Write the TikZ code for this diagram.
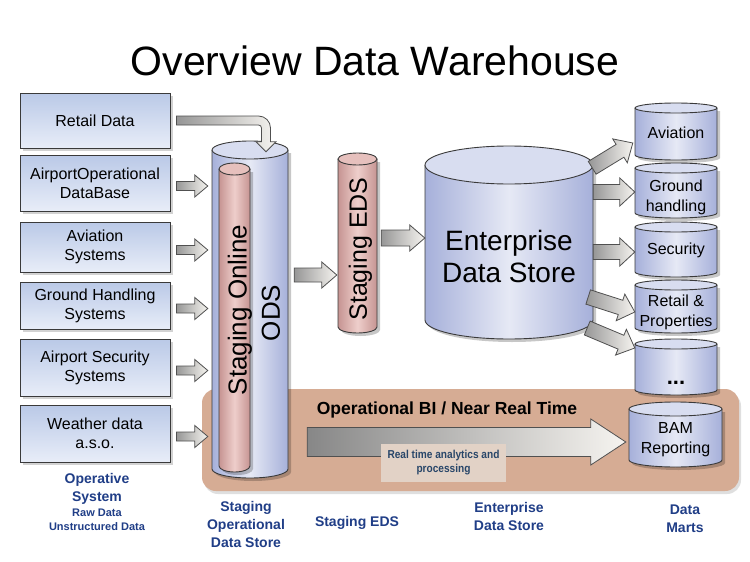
\documentclass[tikz,border=0pt]{standalone}
\usepackage{fontspec}
\setmainfont{Liberation Sans}
\newfontfamily\narrowfont{Liberation Sans}[FakeStretch=0.88]
\usepackage{xcolor}
\usetikzlibrary{calc,shadows}
\definecolor{boxTop}{RGB}{186,201,231}
\definecolor{boxBottom}{RGB}{232,237,248}
\definecolor{boxLine}{RGB}{58,58,58}
\definecolor{drumBlue}{RGB}{166,176,218}
\definecolor{drumBlueHi}{RGB}{230,233,245}
\definecolor{drumBlueLid}{RGB}{216,221,240}
\definecolor{drumPink}{RGB}{198,148,146}
\definecolor{drumPinkHi}{RGB}{238,206,203}
\definecolor{drumPinkLid}{RGB}{230,192,189}
\definecolor{bandTan}{RGB}{214,172,148}
\definecolor{labelBlue}{RGB}{32,62,135}
\definecolor{arrowGray}{RGB}{150,150,150}
\definecolor{bigGray}{RGB}{135,135,135}
\definecolor{arrowLight}{RGB}{246,244,240}
\definecolor{arrowLine}{RGB}{80,80,80}
\definecolor{noteFill}{RGB}{226,210,198}
\definecolor{noteText}{RGB}{40,70,105}

% name, left x, right x, lid y, base y, ellipse half height, colour
\newcommand{\drum}[7]{%
  \pgfmathsetmacro\drumrx{(#3-#2)/2}%
  \pgfmathsetmacro\drumxc{(#3+#2)/2}%
  \fill[black, opacity=.22] (#2+3,#4+3) -- (#2+3,#5+3) arc[start angle=180, end angle=360, x radius=\drumrx pt, y radius=#6pt] -- (#3+3,#4+3) -- cycle;
  \path[left color=#7, right color=#7, middle color=#7Hi] (#2,#4) -- (#2,#5) arc[start angle=180, end angle=360, x radius=\drumrx pt, y radius=#6pt] -- (#3,#4) -- cycle;
  \draw[drumline] (#2,#4) -- (#2,#5) arc[start angle=180, end angle=360, x radius=\drumrx pt, y radius=#6pt] -- (#3,#4);
  \draw[drumline, fill=#7Lid] (\drumxc,#4) ellipse[x radius=\drumrx pt, y radius=#6pt];
  \node[inner sep=0pt, minimum width={(#3-#2)*1pt}, minimum height={(#5-#4+2*#6)*1pt}] (#1) at (\drumxc,{(#4+#5)/2}) {};
}
% style, tail, tip, shaft half width, head half width, head length
\newcommand{\fatarrow}[6]{%
  \coordinate (fatT) at (#2);
  \coordinate (fatH) at (#3);
  \coordinate (fatB) at ($(fatH)!#6!(fatT)$);
  \draw[#1] ($(fatT)!#4!90:(fatH)$) -- ($(fatB)!#4!-90:(fatT)$) -- ($(fatB)!#5!-90:(fatT)$) -- (fatH)
    -- ($(fatB)!#5!90:(fatT)$) -- ($(fatB)!#4!90:(fatT)$) -- ($(fatT)!#4!-90:(fatH)$) -- cycle;
}

\begin{document}
\begin{tikzpicture}[x=1pt, y=-1pt]
    \tikzstyle{srcbox} = [draw=boxLine, line width=1pt, top color=boxTop, bottom color=boxBottom, minimum width=150pt, align=center, font=\fontsize{16}{19}\selectfont, drop shadow={opacity=.35, shadow xshift=2.5pt, shadow yshift=-2.5pt}]
    \tikzstyle{drumline} = [draw=boxLine, line width=0.9pt]
    \tikzstyle{fatarrow} = [draw=arrowLine, line width=0.8pt, left color=arrowGray, right color=arrowLight]
    \tikzstyle{bigarrow} = [draw=arrowLine, line width=0.8pt, left color=bigGray, right color=arrowLight]
    \tikzstyle{drumtext} = [align=center, font=\fontsize{16}{20}\selectfont]
    \tikzstyle{caption} = [align=center, text=labelBlue, font=\bfseries\fontsize{14}{18}\selectfont]
    \fill[white] (0,0) rectangle (750,562);
    \useasboundingbox (0,0) rectangle (750,562);

    \node[font=\fontsize{41}{48}\selectfont, anchor=base] (title) at (375,75) {Overview Data Warehouse};

    \node[fill=bandTan, rounded corners=14pt, minimum width=537pt, minimum height=102pt, drop shadow={opacity=.25, shadow xshift=2pt, shadow yshift=-3pt}] (band) at (470.5,440) {};

    \node[srcbox, minimum height=55pt] (retail) at (95,120.5) {Retail Data};
    \node[srcbox, minimum height=56pt] (aodb) at (95,183) {AirportOperational\\DataBase};
    \node[srcbox, minimum height=50pt] (avsys) at (95,247) {Aviation\\Systems};
    \node[srcbox, minimum height=47pt] (ghsys) at (95,305.5) {Ground Handling\\Systems};
    \node[srcbox, minimum height=57pt] (secsys) at (95,367.5) {Airport Security\\Systems};
    \node[srcbox, minimum height=57pt] (weather) at (95,433.5) {Weather data\\a.s.o.};

    \drum{ods}{212}{288}{150}{469}{9}{drumBlue}
    \drum{odsin}{219}{250}{169}{466}{6}{drumPink}
    \drum{seds}{338}{377}{159}{327}{6}{drumPink}
    \drum{eds}{425}{593}{165}{320}{19}{drumBlue}
    \drum{mAv}{635}{717}{108}{155}{5}{drumBlue}
    \drum{mGh}{635}{717}{168}{213}{5}{drumBlue}
    \drum{mSec}{635}{717}{227}{272}{5}{drumBlue}
    \drum{mRet}{635}{717}{285}{328}{5}{drumBlue}
    \drum{mMore}{635}{717}{344}{390}{5}{drumBlue}
    \drum{mBam}{629}{722}{409}{460}{7}{drumBlue}

    \coordinate (rin) at ($(retail.east)+(6,0)$);
    \coordinate (rdn) at ($(ods.north)+(16,11)$);
    \draw[fatarrow] let \p1=(rin), \p2=(rdn) in (\x1,\y1+4.5pt) -- (\x2-7.5pt,\y1+4.5pt) arc[start angle=90, end angle=0, radius=12pt]
        -- (\x2+4.5pt,\y2+10pt) -- (\x2+10pt,\y2+10pt) -- (\x2,\y2) -- (\x2-10pt,\y2+10pt) -- (\x2-4.5pt,\y2+10pt)
        -- (\x2-4.5pt,\y1-7.5pt) arc[start angle=0, end angle=90, radius=3pt] -- (\x1,\y1-4.5pt) -- cycle;

    \foreach \src in {aodb,avsys,ghsys,secsys,weather}
        \fatarrow{fatarrow}{$(\src.east)+(6,3)$}{$(\src.east -| ods.west)+(-4,3)$}{4.5pt}{11pt}{13pt};

    \fatarrow{fatarrow}{$(ods.east)+(6,-34.5)$}{$(seds.west)+(-1,32)$}{7pt}{13pt}{15pt}
    \fatarrow{fatarrow}{$(seds.east)+(4,-5)$}{$(eds.west)+(0,-4.5)$}{8pt}{13pt}{15pt}

    \fatarrow{fatarrow}{$(eds.north east)+(-1,22)$}{$(mAv.west)+(-2,11.5)$}{7.5pt}{14pt}{15pt}
    \fatarrow{fatarrow}{$(eds.east |- mGh.west)+(0,1.5)$}{$(mGh.west)+(0,1.5)$}{7.5pt}{14pt}{15pt}
    \fatarrow{fatarrow}{$(eds.east |- mSec.west)+(0,2.5)$}{$(mSec.west)+(0,2.5)$}{7.5pt}{14pt}{15pt}
    \fatarrow{fatarrow}{$(eds.east |- mRet.west)+(-5,-9.5)$}{$(mRet.west)+(0,5.5)$}{7.5pt}{14pt}{15pt}
    \fatarrow{fatarrow}{$(eds.east |- mMore.west)+(-6,-39)$}{$(mMore.west)+(0,-19)$}{7.5pt}{14pt}{15pt}

    \fatarrow{bigarrow}{$(ods.east |- mBam.west)+(19,7.5)$}{$(mBam.west)+(-3,7.5)$}{14.5pt}{23pt}{35pt}

    \node[font=\bfseries\fontsize{17.5}{20}\selectfont] (bandtitle) at (447,410) {Operational BI / Near Real Time};
    \node[fill=noteFill, minimum width=125pt, minimum height=38pt, align=center, text=noteText, font=\narrowfont\bfseries\fontsize{11.5}{14}\selectfont] (rtnote) at (443.5,463) {Real time analytics and\\processing};

    \node[rotate=90, font=\fontsize{26}{30}\selectfont] (odsintext) at (240,310) {Staging Online};
    \node[rotate=90, font=\fontsize{26}{30}\selectfont] (odstext) at (271,313) {ODS};
    \node[rotate=90, font=\fontsize{25}{30}\selectfont] (sedstext) at (360.5,249) {Staging EDS};
    \node[align=center, font=\fontsize{28}{32}\selectfont] (edstext) at (509,256) {Enterprise\\Data Store};

    \node[drumtext] (lAv) at (676,133) {Aviation};
    \node[drumtext] (lGh) at (676,197) {Ground\\handling};
    \node[drumtext] (lSec) at (676,250) {Security};
    \node[drumtext] (lRet) at (676,312) {Retail \&\\Properties};
    \node[drumtext, font=\bfseries\fontsize{22}{24}\selectfont] (lMore) at (676,383) {...};
    \node[drumtext] (lBam) at (675.5,440) {BAM\\Reporting};

    \node[caption] (capOps) at (97,489) {Operative\\System};
    \node[caption, font=\bfseries\fontsize{11}{14}\selectfont] (capRaw) at (97,520) {Raw Data\\Unstructured Data};
    \node[caption] (capOds) at (246,524) {Staging\\Operational\\Data Store};
    \node[caption] (capSeds) at (357,523) {Staging EDS};
    \node[caption] (capEds) at (509,516.5) {Enterprise\\Data Store};
    \node[caption] (capMarts) at (685,518.5) {Data\\Marts};
\end{tikzpicture}
\end{document}
